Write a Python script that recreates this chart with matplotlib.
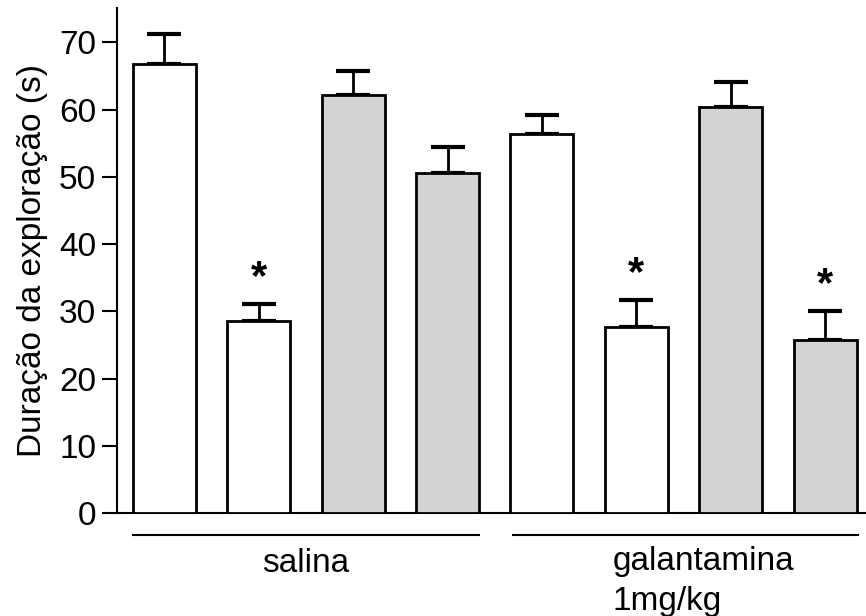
import matplotlib.pyplot as plt

# mean exploration time and SEM for each bar
means = [66.8, 28.6, 62.2, 50.5, 56.4, 27.6, 60.4, 25.8]
sems = [4.4, 2.5, 3.5, 3.9, 2.8, 4.1, 3.7, 4.3]
colors = ['white', 'white', 'lightgray', 'lightgray', 'white', 'white', 'lightgray', 'lightgray']
significant = [False, True, False, False, False, True, False, True]
yticks = [0, 10, 20, 30, 40, 50, 60, 70]

plt.rcParams['font.family'] = ['Liberation Sans', 'DejaVu Sans']

fig = plt.figure(figsize=(8.66, 6.16), dpi=100)
ax = fig.add_axes([0.135, 0.167, 0.865, 0.820])

x = list(range(len(means)))
lower = [0] * len(means)
ax.bar(x, means, width=0.667, color=colors, edgecolor='black', linewidth=2, zorder=3,
       yerr=[lower, sems], capsize=12,
       error_kw=dict(elinewidth=2, capthick=3, ecolor='black', zorder=2))

# asterisks above the significant bars
for i in range(len(means)):
    if significant[i]:
        ax.text(i, means[i] + sems[i] + 0.8, '*', ha='center', va='bottom',
                fontsize=30, fontweight='bold')

ax.set_xlim(-0.5, 7.43)
ax.set_ylim(0, 75.1)
ax.set_yticks(yticks)
ax.set_xticks([])
ax.set_ylabel('Duração da exploração (s)', fontsize=24, labelpad=8)
ax.tick_params(axis='y', labelsize=24, length=11, width=1.5, pad=4)

for side in ['top', 'right']:
    ax.spines[side].set_visible(False)
ax.spines['left'].set_linewidth(1.5)
ax.spines['bottom'].set_linewidth(1.5)

# group brackets under the axis
trans = ax.get_xaxis_transform()
ax.plot([-0.333, 3.333], [-0.044, -0.044], color='black', lw=1.5, transform=trans, clip_on=False)
ax.plot([3.69, 7.35], [-0.044, -0.044], color='black', lw=1.5, transform=trans, clip_on=False)
ax.text(1.5, -0.099, 'salina', ha='center', va='center', fontsize=24, transform=trans)
ax.text(4.75, -0.095, 'galantamina', ha='left', va='center', fontsize=24, transform=trans)
ax.text(4.75, -0.174, '1mg/kg', ha='left', va='center', fontsize=24, transform=trans)

fig.savefig('out.png', dpi=100)
